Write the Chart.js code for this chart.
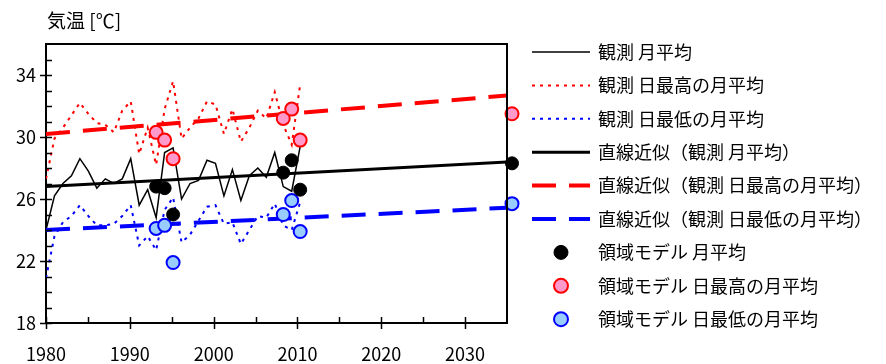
<!DOCTYPE html>
<html lang="ja">
<head>
<meta charset="utf-8">
<script src="https://cdn.jsdelivr.net/npm/chart.js@4/dist/chart.umd.min.js"></script>
<style>
  html, body { margin: 0; padding: 0; background: #fff; }
  #wrap { width: 886px; height: 364px; position: relative; }
</style>
</head>
<body>
<div id="wrap"><canvas id="c" width="886" height="364"></canvas></div>
<script>
// 観測値（1980〜2010年）
const years = [1980, 1981, 1982, 1983, 1984, 1985, 1986, 1987, 1988, 1989,
               1990, 1991, 1992, 1993, 1994, 1995, 1996, 1997, 1998, 1999,
               2000, 2001, 2002, 2003, 2004, 2005, 2006, 2007, 2008, 2009, 2010];
const obsMean = [24.0, 26.2, 27.0, 27.5, 28.6, 27.8, 26.7, 27.3, 27.0, 27.3,
                 28.6, 25.6, 26.6, 24.8, 29.0, 29.3, 26.0, 27.0, 27.2, 28.5,
                 28.3, 26.2, 27.9, 25.9, 27.5, 28.0, 27.4, 29.0, 26.8, 26.5, 29.4];
const obsMax = [27.3, 29.9, 30.6, 31.4, 32.2, 31.5, 30.9, 30.8, 30.3, 31.7,
                32.3, 28.9, 30.6, 28.2, 31.8, 33.6, 29.9, 30.6, 31.2, 32.3,
                32.1, 30.2, 31.8, 29.7, 30.6, 31.7, 31.2, 32.9, 30.8, 29.5, 33.4];
const obsMin = [20.9, 23.6, 24.5, 24.9, 25.6, 24.9, 24.3, 24.3, 24.4, 24.9,
                25.6, 23.0, 23.6, 22.7, 25.3, 26.1, 23.2, 23.7, 24.6, 25.5,
                25.6, 24.4, 24.5, 23.1, 24.0, 24.9, 24.8, 25.7, 24.3, 24.0, 25.8];

// 直線近似（端点）
const trendYears = [1980, 2035];
const trendMean = [26.8, 28.4];
const trendMax = [30.2, 32.7];
const trendMin = [24.0, 25.45];

// 領域モデル
const modelYears = [1993, 1994, 1995, 2008, 2009, 2010, 2035];
const modelMean = [26.8, 26.7, 25.0, 27.7, 28.5, 26.6, 28.3];
const modelMax = [30.3, 29.8, 28.6, 31.2, 31.8, 29.8, 31.5];
const modelMin = [24.1, 24.3, 21.9, 25.0, 25.9, 23.9, 25.7];

// 目盛
const xTicks = [1980, 1990, 2000, 2010, 2020, 2030];
const yTicks = [18, 22, 26, 30, 34];

const FONT = '"Noto Sans CJK JP", "Noto Sans", sans-serif';
const pts = (xs, ys) => xs.map((x, i) => ({ x: x, y: ys[i] }));

const datasets = [
  { label: '観測 月平均', data: pts(years, obsMean), borderColor: '#000', borderWidth: 1.5,
    pointRadius: 0, order: 3, kind: 'line' },
  { label: '観測 日最高の月平均', data: pts(years, obsMax), borderColor: '#ff0000', borderWidth: 2,
    borderDash: [3, 5], pointRadius: 0, order: 3, kind: 'line' },
  { label: '観測 日最低の月平均', data: pts(years, obsMin), borderColor: '#0000ff', borderWidth: 2,
    borderDash: [3, 5], pointRadius: 0, order: 3, kind: 'line' },
  { label: '直線近似（観測 月平均）', data: pts(trendYears, trendMean), borderColor: '#000', borderWidth: 3,
    pointRadius: 0, order: 2, kind: 'line' },
  { label: '直線近似（観測 日最高の月平均）', data: pts(trendYears, trendMax), borderColor: '#ff0000', borderWidth: 4,
    borderDash: [24, 13], pointRadius: 0, order: 2, kind: 'line' },
  { label: '直線近似（観測 日最低の月平均）', data: pts(trendYears, trendMin), borderColor: '#0000ff', borderWidth: 4,
    borderDash: [24, 13], pointRadius: 0, order: 2, kind: 'line' },
  { label: '領域モデル 月平均', data: pts(modelYears, modelMean), showLine: false,
    pointRadius: 6.5, pointBackgroundColor: '#000', pointBorderColor: '#000', pointBorderWidth: 1,
    order: 1, kind: 'point', clip: false },
  { label: '領域モデル 日最高の月平均', data: pts(modelYears, modelMax), showLine: false,
    pointRadius: 6.5, pointBackgroundColor: '#ff99cc', pointBorderColor: '#ff0000', pointBorderWidth: 2,
    order: 1, kind: 'point', clip: false },
  { label: '領域モデル 日最低の月平均', data: pts(modelYears, modelMin), showLine: false,
    pointRadius: 6.5, pointBackgroundColor: '#99ccff', pointBorderColor: '#0000ff', pointBorderWidth: 2,
    order: 1, kind: 'point', clip: false }
];
datasets.forEach(d => { d.xAxisID = 'xd'; d.yAxisID = 'y'; d.fill = false; d.tension = 0;
  d.borderColor = d.borderColor || d.pointBorderColor; });

// 枠・目盛線・凡例・単位
const decor = {
  id: 'decor',
  afterDraw(chart) {
    const ctx = chart.ctx;
    const a = chart.chartArea;
    const xs = chart.scales.x, ys = chart.scales.y;
    ctx.save();
    ctx.strokeStyle = '#000';
    ctx.lineWidth = 2;
    // 上辺・右辺
    ctx.beginPath();
    ctx.moveTo(a.left, a.top); ctx.lineTo(a.right, a.top); ctx.lineTo(a.right, a.bottom);
    ctx.stroke();
    ctx.lineWidth = 1.5;
    // x軸目盛
    for (let v = 1980; v < 2035; v += 5) {
      const px = Math.round(xs.getPixelForValue(v)) + 0.5;
      const major = v % 10 === 0;
      ctx.beginPath();
      ctx.moveTo(px, a.bottom - 6);
      ctx.lineTo(px, a.bottom + (major ? 6 : 0));
      ctx.stroke();
    }
    // y軸目盛
    for (let v = 18; v < 36; v += 1) {
      const py = Math.round(ys.getPixelForValue(v)) + 0.5;
      const major = yTicks.includes(v);
      ctx.beginPath();
      ctx.moveTo(a.left - (major ? 6 : 0), py);
      ctx.lineTo(a.left + 6, py);
      ctx.stroke();
    }
    // 単位
    ctx.fillStyle = '#000';
    ctx.font = '19px ' + FONT;
    ctx.textAlign = 'left';
    ctx.textBaseline = 'middle';
    ctx.fillText('気温 [℃]', 47, 21);
    // 凡例
    const x0 = 532, x1 = 590, tx = 598;
    chart.data.datasets.forEach((d, i) => {
      const cy = 52 + i * 33.4;
      ctx.save();
      if (d.kind === 'line') {
        ctx.strokeStyle = d.borderColor;
        ctx.lineWidth = d.borderWidth;
        ctx.setLineDash(d.borderDash || []);
        ctx.beginPath();
        ctx.moveTo(x0, cy); ctx.lineTo(x1, cy);
        ctx.stroke();
      } else {
        ctx.fillStyle = d.pointBackgroundColor;
        ctx.strokeStyle = d.pointBorderColor;
        ctx.lineWidth = d.pointBorderWidth;
        ctx.beginPath();
        ctx.arc(561, cy, 7, 0, Math.PI * 2);
        ctx.fill(); ctx.stroke();
      }
      ctx.restore();
      ctx.fillStyle = '#000';
      ctx.font = '18px ' + FONT;
      ctx.textBaseline = 'middle';
      ctx.fillText(d.label, tx, cy);
    });
    ctx.restore();
  }
};

new Chart(document.getElementById('c'), {
  type: 'line',
  data: { datasets: datasets },
  options: {
    responsive: false,
    animation: false,
    layout: { padding: { left: 0, right: 379, top: 44, bottom: 0 } },
    plugins: { legend: { display: false }, tooltip: { enabled: false }, title: { display: false } },
    scales: {
      xd: {
        type: 'linear', display: false, position: 'bottom',
        min: 1980, max: 2034.41
      },
      x: {
        type: 'linear', position: 'bottom', min: 1980, max: 2035,
        afterBuildTicks: s => { s.ticks = xTicks.map(v => ({ value: v })); },
        afterFit: s => { s.height = 41; },
        grid: { display: false, drawTicks: false },
        border: { display: true, color: '#000', width: 2 },
        ticks: { color: '#000', font: { family: FONT, size: 18 }, padding: 20, maxRotation: 0,
                 autoSkip: false, callback: v => String(v) }
      },
      y: {
        type: 'linear', position: 'left', min: 18, max: 36,
        afterBuildTicks: s => { s.ticks = yTicks.map(v => ({ value: v })); },
        afterFit: s => { s.width = 46; },
        grid: { display: false, drawTicks: false },
        border: { display: true, color: '#000', width: 2 },
        ticks: { color: '#000', font: { family: FONT, size: 18 }, padding: 10,
                 callback: v => String(v) }
      }
    }
  },
  plugins: [decor]
});
</script>
</body>
</html>
